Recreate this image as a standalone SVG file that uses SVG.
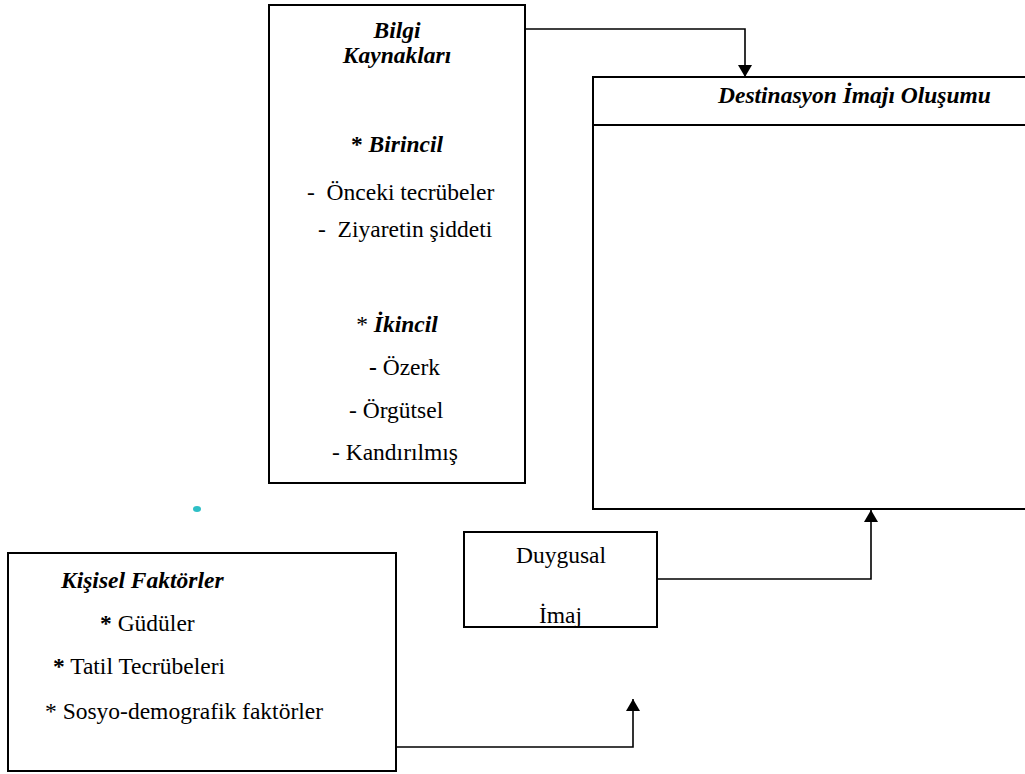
<svg xmlns="http://www.w3.org/2000/svg" width="1025" height="774" viewBox="0 0 1025 774">
  <style>
    .box { fill: #ffffff; stroke: #000000; stroke-width: 2; }
    .wire { fill: none; stroke: #000000; stroke-width: 1.6; }
    text { font-family: "Liberation Serif", "Times New Roman", serif; font-size: 23.5px; fill: #000000; }
    .head { font-weight: bold; font-style: italic; }
    .b { font-weight: bold; }
  </style>
  <defs>
    <marker id="arrow" viewBox="0 0 12 14" refX="12" refY="7" markerWidth="12" markerHeight="14" markerUnits="userSpaceOnUse" orient="auto">
      <path d="M0,0 L12,7 L0,14 Z" fill="#000000"/>
    </marker>
  </defs>

  <rect width="1025" height="774" fill="#ffffff"/>

  <!-- information sources -->
  <g id="bilgi-kaynaklari">
    <rect class="box" x="269" y="5" width="256" height="478"/>
    <text class="head" x="397" y="38" text-anchor="middle">Bilgi</text>
    <text class="head" x="397" y="63" text-anchor="middle">Kaynakları</text>
    <text x="397" y="152" text-anchor="middle"><tspan class="b">* </tspan><tspan class="head">Birincil</tspan></text>
    <text x="307" y="200" xml:space="preserve">-  Önceki tecrübeler</text>
    <text x="318" y="237" xml:space="preserve">-  Ziyaretin şiddeti</text>
    <text x="397" y="332" text-anchor="middle">* <tspan class="head">İkincil</tspan></text>
    <text x="369" y="375"><tspan class="b">-</tspan> Özerk</text>
    <text x="349" y="418">- Örgütsel</text>
    <text x="332" y="460">- Kandırılmış</text>
  </g>

  <!-- destination image formation -->
  <g id="destinasyon-imaji">
    <rect class="box" x="593" y="77" width="450" height="432"/>
    <line x1="593" y1="125" x2="1025" y2="125" stroke="#000000" stroke-width="2"/>
    <text class="head" x="718" y="103">Destinasyon İmajı Oluşumu</text>
  </g>

  <!-- affective image -->
  <g id="duygusal-imaj">
    <rect class="box" x="464" y="532" width="193" height="95"/>
    <text x="516" y="563">Duygusal</text>
    <text x="539" y="623">İmaj</text>
  </g>

  <!-- personal factors -->
  <g id="kisisel-faktorler">
    <rect class="box" x="8" y="553" width="388" height="218"/>
    <text class="head" x="61" y="588">Kişisel Faktörler</text>
    <text x="100" y="631"><tspan class="b">*</tspan> Güdüler</text>
    <text x="53" y="674"><tspan class="b">*</tspan> Tatil Tecrübeleri</text>
    <text x="45" y="719">* Sosyo-demografik faktörler</text>
  </g>

  <!-- small marker dot -->
  <ellipse cx="197" cy="509" rx="4" ry="3" fill="#2ebfc6"/>

  <g id="connectors">
    <path class="wire" d="M525,29 H745 V77" marker-end="url(#arrow)"/>
    <path class="wire" d="M657,579 H871 V510" marker-end="url(#arrow)"/>
    <path class="wire" d="M396,747 H633 V699" marker-end="url(#arrow)"/>
  </g>
</svg>
